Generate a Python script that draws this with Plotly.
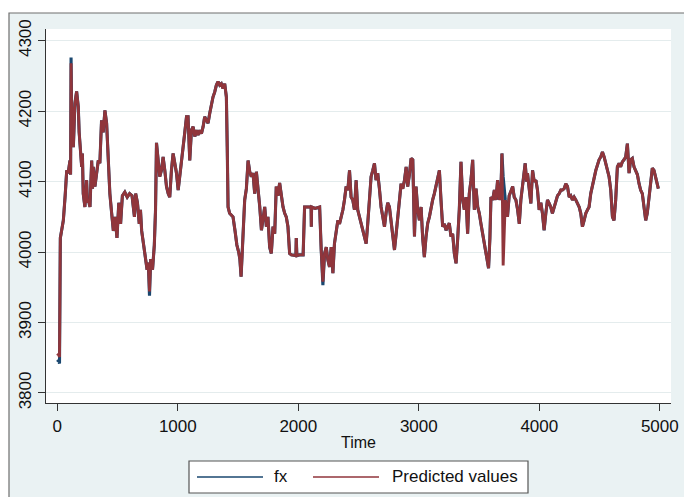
import plotly.graph_objects as go

# ---- data ----
time = [0, 10, 18, 25, 35, 50, 65, 78, 90, 105, 110, 114, 120, 126, 133, 146, 160, 174, 181, 188,
        202, 208, 215, 229, 236, 243, 250, 257, 271, 278, 285, 292, 298, 312, 326, 340, 353, 367, 381, 395,
        409, 423, 436, 451, 465, 480, 495, 510, 525, 540, 560, 580, 600, 620, 640, 650, 665, 680, 690, 700,
        715, 730, 745, 755, 765, 775, 790, 805, 815, 823, 836, 850, 864, 878, 892, 906, 920, 933, 947, 961,
        975, 989, 1003, 1017, 1031, 1044, 1058, 1072, 1085, 1099, 1113, 1127, 1141, 1154, 1168, 1182, 1196, 1210, 1223, 1237,
        1251, 1265, 1279, 1292, 1306, 1320, 1334, 1348, 1361, 1375, 1389, 1403, 1410, 1417, 1430, 1458, 1475, 1490, 1505, 1515,
        1525, 1540, 1555, 1569, 1583, 1597, 1610, 1624, 1638, 1652, 1666, 1680, 1694, 1708, 1721, 1735, 1748, 1762, 1776, 1790,
        1804, 1817, 1831, 1845, 1859, 1873, 1887, 1900, 1914, 1928, 1942, 1960, 1980, 1983, 1988, 2010, 2040, 2052, 2080, 2106,
        2108, 2110, 2140, 2177, 2190, 2204, 2218, 2232, 2245, 2259, 2273, 2287, 2300, 2314, 2328, 2342, 2356, 2370, 2383, 2397,
        2411, 2425, 2438, 2452, 2466, 2480, 2493, 2507, 2521, 2535, 2549, 2563, 2576, 2590, 2604, 2618, 2632, 2645, 2659, 2673,
        2687, 2701, 2715, 2728, 2742, 2756, 2770, 2784, 2798, 2812, 2825, 2839, 2853, 2867, 2881, 2895, 2908, 2922, 2936, 2950,
        2964, 2977, 2991, 3005, 3019, 3032, 3046, 3060, 3074, 3088, 3102, 3115, 3129, 3143, 3157, 3171, 3184, 3198, 3212, 3226,
        3240, 3253, 3267, 3281, 3295, 3309, 3322, 3336, 3350, 3364, 3378, 3392, 3405, 3419, 3433, 3447, 3461, 3475, 3489, 3502,
        3516, 3530, 3544, 3557, 3571, 3579, 3590, 3599, 3613, 3627, 3640, 3654, 3668, 3682, 3690, 3700, 3718, 3736, 3750, 3765,
        3779, 3792, 3806, 3820, 3834, 3847, 3861, 3875, 3883, 3895, 3902, 3916, 3930, 3944, 3958, 3972, 3985, 3999, 4013, 4026,
        4040, 4054, 4068, 4082, 4095, 4109, 4123, 4137, 4151, 4165, 4179, 4192, 4206, 4220, 4234, 4248, 4261, 4275, 4289, 4303,
        4317, 4331, 4344, 4358, 4372, 4386, 4400, 4413, 4427, 4441, 4455, 4469, 4483, 4496, 4510, 4524, 4538, 4551, 4565, 4579,
        4593, 4607, 4620, 4634, 4648, 4662, 4675, 4689, 4703, 4717, 4731, 4745, 4758, 4772, 4786, 4800, 4814, 4828, 4841, 4855,
        4869, 4883, 4896, 4910, 4924, 4938, 4952, 4966, 4980, 4988]

fx = [3844, 3846, 3842, 4020, 4030, 4045, 4080, 4116, 4112, 4130, 4110, 4276, 4180, 4206, 4149, 4211, 4228, 4206, 4170, 4149,
      4121, 4140, 4083, 4064, 4090, 4102, 4070, 4074, 4064, 4100, 4130, 4090, 4121, 4093, 4110, 4130, 4126, 4187, 4170, 4201,
      4183, 4130, 4083, 4055, 4030, 4050, 4020, 4070, 4040, 4080, 4085, 4078, 4083, 4080, 4050, 4083, 4070, 4040, 4060, 4030,
      4010, 3995, 3975, 3985, 3938, 3990, 3975, 4010, 4060, 4155, 4126, 4107, 4116, 4135, 4116, 4093, 4083, 4078, 4116, 4140,
      4126, 4112, 4088, 4107, 4130, 4145, 4170, 4192, 4192, 4130, 4173, 4178, 4164, 4173, 4166, 4173, 4168, 4178, 4192, 4187,
      4183, 4197, 4211, 4220, 4227, 4237, 4242, 4237, 4239, 4232, 4239, 4220, 4150, 4064, 4055, 4050, 4030, 4010, 4000, 3990,
      3965, 4020, 4074, 4090, 4130, 4114, 4107, 4112, 4083, 4114, 4093, 4064, 4031, 4050, 4064, 4036, 4050, 4007, 3998, 4036,
      4026, 4093, 4080, 4098, 4078, 4064, 4055, 4050, 4036, 3998, 3996, 3995, 3995, 4020, 3995, 3996, 3996, 4064, 4064, 4064,
      4036, 4064, 4062, 4064, 4003, 3953, 3998, 4007, 3989, 3979, 4007, 3970, 4012, 4026, 4045, 4040, 4050, 4060, 4074, 4093,
      4088, 4116, 4078, 4074, 4060, 4102, 4060, 4050, 4041, 4030, 4022, 4012, 4040, 4074, 4107, 4116, 4126, 4102, 4112, 4090,
      4064, 4050, 4036, 4055, 4070, 4064, 4045, 4020, 4003, 4026, 4050, 4074, 4097, 4090, 4102, 4121, 4093, 4110, 4133, 4131,
      4022, 4093, 4060, 4045, 4064, 4020, 3993, 4022, 4041, 4050, 4064, 4074, 4083, 4095, 4107, 4116, 4074, 4036, 4040, 4031,
      4036, 4041, 4022, 4026, 3998, 3984, 4017, 4060, 4128, 4074, 4060, 4078, 4026, 4083, 4102, 4131, 4060, 4090, 4064, 4055,
      4040, 4026, 4012, 4005, 3990, 3977, 4020, 4078, 4074, 4088, 4074, 4102, 4074, 4090, 4140, 4107, 4074, 4050, 4080, 4088,
      4093, 4078, 4074, 4060, 4040, 4074, 4097, 4110, 4126, 4100, 4112, 4090, 4069, 4116, 4100, 4102, 4088, 4060, 4070, 4055,
      4031, 4055, 4074, 4069, 4064, 4055, 4064, 4074, 4080, 4083, 4088, 4088, 4090, 4097, 4093, 4078, 4080, 4074, 4078, 4074,
      4070, 4064, 4055, 4036, 4045, 4055, 4060, 4064, 4083, 4097, 4105, 4116, 4125, 4131, 4135, 4142, 4135, 4125, 4116, 4107,
      4088, 4050, 4045, 4074, 4121, 4126, 4121, 4128, 4131, 4135, 4154, 4112, 4131, 4133, 4121, 4116, 4110, 4097, 4088, 4083,
      4064, 4045, 4055, 4078, 4097, 4119, 4116, 4105, 4097, 4090]

predicted = list(fx)
# points where the one-step prediction visibly differs from fx
predicted[0] = 3853
predicted[1] = 3855
predicted[2] = 3851
predicted[11] = 4268
predicted[64] = 3944
predicted[165] = 3958
predicted[275] = 3981

x_ticks = [0, 1000, 2000, 3000, 4000, 5000]
y_ticks = [3800, 3900, 4000, 4100, 4200, 4300]
legend_labels = ["fx", "Predicted values"]
x_title = "Time"

NAVY = "#1a476f"
MAROON = "#90353b"
BG = "#eaf2f3"
FONT = "Liberation Sans, Arial, sans-serif"

W, H = 684, 497
# plot area in window pixels
PX0, PX1, PY0, PY1 = 46, 671, 29, 403
L, R, T, B = PX0, W - PX1, PY0, H - PY1
pw, ph = PX1 - PX0, PY1 - PY0


def px(xp):
    return (xp - PX0) / pw


def py(yp):
    return (PY1 - yp) / ph


fig = go.Figure()
fig.add_trace(go.Scatter(x=time, y=fx, mode="lines", name=legend_labels[0],
                         line=dict(color=NAVY, width=3.1), showlegend=False))
fig.add_trace(go.Scatter(x=time, y=predicted, mode="lines", name=legend_labels[1],
                         line=dict(color=MAROON, width=2.9), showlegend=False))

shapes = [
    # outer Stata-like background with border
    dict(type="rect", xref="paper", yref="paper", x0=px(9), x1=px(W + 20), y0=py(13), y1=py(H + 20),
         fillcolor=BG, line=dict(color="#6e6e6e", width=1.2), layer="below"),
    # plot region
    dict(type="rect", xref="paper", yref="paper", x0=0, x1=1, y0=0, y1=1,
         fillcolor="white", line=dict(width=0), layer="below"),
    # legend box
    dict(type="rect", xref="paper", yref="paper", x0=px(189), x1=px(528), y0=py(493), y1=py(461),
         fillcolor="white", line=dict(color="#555555", width=1.2)),
    dict(type="line", xref="paper", yref="paper", x0=px(197), x1=px(263), y0=py(477), y1=py(477),
         line=dict(color=NAVY, width=1.6)),
    dict(type="line", xref="paper", yref="paper", x0=px(313), x1=px(379), y0=py(477), y1=py(477),
         line=dict(color=MAROON, width=1.6)),
]

annotations = [
    dict(text=legend_labels[0], xref="paper", yref="paper", x=px(272), y=py(477),
         xanchor="left", yanchor="middle", showarrow=False,
         font=dict(family=FONT, size=17, color="#111111")),
    dict(text=legend_labels[1], xref="paper", yref="paper", x=px(390), y=py(477),
         xanchor="left", yanchor="middle", showarrow=False,
         font=dict(family=FONT, size=17, color="#111111")),
]

fig.update_layout(
    width=W, height=H,
    margin=dict(l=L, r=R, t=T, b=B, pad=0, autoexpand=False),
    paper_bgcolor="white",
    plot_bgcolor="white",
    shapes=shapes,
    annotations=annotations,
    showlegend=False,
    font=dict(family=FONT, size=17, color="#111111"),
    xaxis=dict(range=[-94, 5093], tickvals=x_ticks, ticks="outside", ticklen=7, tickwidth=1,
               tickcolor="#333333", showline=True, linecolor="#333333", linewidth=1.2,
               showgrid=False, zeroline=False, automargin=False,
               tickfont=dict(family=FONT, size=17, color="#111111"),
               title=dict(text=x_title, standoff=2, font=dict(family=FONT, size=16, color="#111111"))),
    yaxis=dict(range=[3785.8, 4316.6], tickvals=y_ticks, ticks="outside", ticklen=7, tickwidth=1,
               tickcolor="#333333", showline=True, linecolor="#333333", linewidth=1.2,
               showgrid=True, gridcolor="#e4eced", gridwidth=1, zeroline=False, automargin=False,
               tickangle=-90,
               tickfont=dict(family=FONT, size=17, color="#111111")),
)

# remove the default page margin so the figure sits at the window's top-left corner
fig.write_html("out.html",
               config={"displayModeBar": False},
               post_script="document.body.style.margin='0';document.body.style.overflow='hidden';")
